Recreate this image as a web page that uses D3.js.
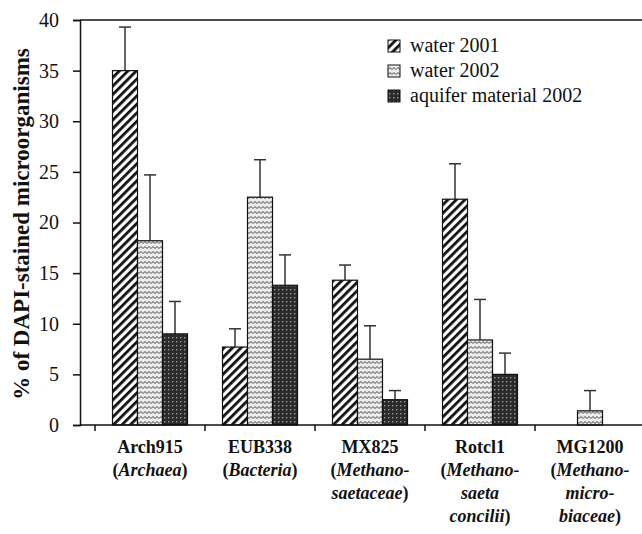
<!DOCTYPE html>
<html>
<head>
<meta charset="utf-8">
<script src="https://cdn.jsdelivr.net/npm/d3@7"></script>
</head>
<body style="margin:0">
<div id="chart"></div>
<script>
// Chart size
var width = 642;
var height = 534;
var font = "Liberation Serif";

// Data
var categories = ["Arch915", "EUB338", "MX825", "Rotcl1", "MG1200"];
var catNames = [["Archaea"], ["Bacteria"], ["Methano-", "saetaceae"], ["Methano-", "saeta", "concilii"], ["Methano-", "micro-", "biaceae"]];
var series = ["water 2001", "water 2002", "aquifer material 2002"];
var water2001 = [35.0, 7.7, 14.3, 22.3, 0];
var water2002 = [18.2, 22.5, 6.5, 8.4, 1.4];
var aquifer2002 = [9.0, 13.8, 2.5, 5.0, 0];
var water2001Err = [4.3, 1.8, 1.5, 3.5, 0];
var water2002Err = [6.5, 3.7, 3.3, 4.0, 2.0];
var aquifer2002Err = [3.2, 3.0, 0.9, 2.1, 0];
var yTicks = [0, 5, 10, 15, 20, 25, 30, 35, 40];

var values = [water2001, water2002, aquifer2002];
var errors = [water2001Err, water2002Err, aquifer2002Err];

var svg = d3.select("#chart").append("svg")
  .attr("width", width)
  .attr("height", height);

// Patterns for the three series
var defs = svg.append("defs");

var p1 = defs.append("pattern")
  .attr("id", "pat0")
  .attr("patternUnits", "userSpaceOnUse")
  .attr("width", 6).attr("height", 6)
  .attr("patternTransform", "rotate(45)");
p1.append("rect").attr("width", 6).attr("height", 6).attr("fill", "#fff");
p1.append("rect").attr("width", 2.8).attr("height", 6).attr("fill", "#111");

var p2 = defs.append("pattern")
  .attr("id", "pat1")
  .attr("patternUnits", "userSpaceOnUse")
  .attr("width", 8).attr("height", 5);
p2.append("rect").attr("width", 8).attr("height", 5).attr("fill", "#eee");
p2.append("path")
  .attr("d", "M0,3.5 L2,1.5 L4,3.5 L6,1.5 L8,3.5")
  .attr("fill", "none")
  .attr("stroke", "#888")
  .attr("stroke-width", 1.2);

var p3 = defs.append("pattern")
  .attr("id", "pat2")
  .attr("patternUnits", "userSpaceOnUse")
  .attr("width", 4).attr("height", 4);
p3.append("rect").attr("width", 4).attr("height", 4).attr("fill", "#2a2a2a");
p3.append("rect").attr("x", 1).attr("y", 1).attr("width", 1.4).attr("height", 1.4).attr("fill", "#999");

// Scales
var y = d3.scaleLinear().domain([0, 40]).range([425, 20]);
var x0 = d3.scaleBand().domain(categories).range([95, 645]);
var x1 = d3.scaleBand().domain(series).range([17.5, 92.5]);

var axisX = 80;

// Top frame line
svg.append("line")
  .attr("x1", axisX).attr("x2", width)
  .attr("y1", y(40)).attr("y2", y(40))
  .attr("stroke", "#111").attr("stroke-width", 1.5);

// Bars
var groups = svg.selectAll(".grp")
  .data(categories)
  .enter().append("g")
  .attr("class", "grp")
  .attr("transform", function(d) { return "translate(" + x0(d) + ",0)"; });

series.forEach(function(s, si) {
  groups.each(function(c, ci) {
    var v = values[si][ci];
    var e = errors[si][ci];
    var g = d3.select(this);
    if (v <= 0) return;
    var cx = x1(s) + x1.bandwidth() / 2;
    if (e > 0) {
      g.append("line")
        .attr("x1", cx).attr("x2", cx)
        .attr("y1", y(v)).attr("y2", y(v + e))
        .attr("stroke", "#333").attr("stroke-width", 1.5);
      g.append("line")
        .attr("x1", cx - 6).attr("x2", cx + 6)
        .attr("y1", y(v + e)).attr("y2", y(v + e))
        .attr("stroke", "#333").attr("stroke-width", 1.5);
    }
    g.append("rect")
      .attr("x", x1(s))
      .attr("y", y(v))
      .attr("width", x1.bandwidth())
      .attr("height", y(0) - y(v))
      .attr("fill", "url(#pat" + si + ")")
      .attr("stroke", "#111")
      .attr("stroke-width", 1.2);
  });
});

// Y axis
var yAxis = svg.append("g")
  .attr("transform", "translate(" + axisX + ",0)")
  .call(d3.axisLeft(y).tickValues(yTicks).tickSize(7).tickPadding(14));
yAxis.attr("font-family", font).attr("font-size", 20);
yAxis.select(".domain").attr("stroke", "#111").attr("stroke-width", 1.5);
yAxis.selectAll(".tick line").attr("stroke", "#111").attr("stroke-width", 1.5);
yAxis.selectAll(".tick text").attr("fill", "#111").attr("font-family", font);

// X axis
svg.append("line")
  .attr("x1", axisX).attr("x2", width)
  .attr("y1", y(0)).attr("y2", y(0))
  .attr("stroke", "#111").attr("stroke-width", 1.5);
svg.selectAll(".xtick")
  .data(categories)
  .enter().append("line")
  .attr("class", "xtick")
  .attr("x1", function(d) { return x0(d); }).attr("x2", function(d) { return x0(d); })
  .attr("y1", y(0)).attr("y2", y(0) + 6)
  .attr("stroke", "#111").attr("stroke-width", 1.5);

// Category labels
categories.forEach(function(c, i) {
  var cx = x0(c) + x0.bandwidth() / 2;
  var t = svg.append("text")
    .attr("x", cx).attr("y", 453)
    .attr("text-anchor", "middle")
    .attr("font-family", font)
    .attr("font-size", 18)
    .attr("font-weight", "bold")
    .attr("fill", "#111");
  t.append("tspan").attr("x", cx).attr("dy", 0).text(c);
  var names = catNames[i];
  names.forEach(function(n, j) {
    var line = t.append("tspan").attr("x", cx).attr("dy", 23);
    if (j === 0) line.append("tspan").text("(");
    line.append("tspan").attr("font-style", "italic").text(n);
    if (j === names.length - 1) line.append("tspan").text(")");
  });
});

// Y axis title
svg.append("text")
  .attr("transform", "translate(29,224) rotate(-90)")
  .attr("text-anchor", "middle")
  .attr("font-family", font)
  .attr("font-size", 23)
  .attr("font-weight", "bold")
  .attr("fill", "#111")
  .text("% of DAPI-stained microorganisms");

// Legend
var legend = svg.selectAll(".legend")
  .data(series)
  .enter().append("g")
  .attr("class", "legend")
  .attr("transform", function(d, i) { return "translate(388," + (46 + i * 25) + ")"; });
legend.append("rect")
  .attr("x", 0).attr("y", -6)
  .attr("width", 12).attr("height", 12)
  .attr("fill", function(d, i) { return "url(#pat" + i + ")"; })
  .attr("stroke", "#111").attr("stroke-width", 1);
legend.append("text")
  .attr("x", 22).attr("y", 6)
  .attr("font-family", font)
  .attr("font-size", 20)
  .attr("fill", "#111")
  .text(function(d) { return d; });
</script>
</body>
</html>
